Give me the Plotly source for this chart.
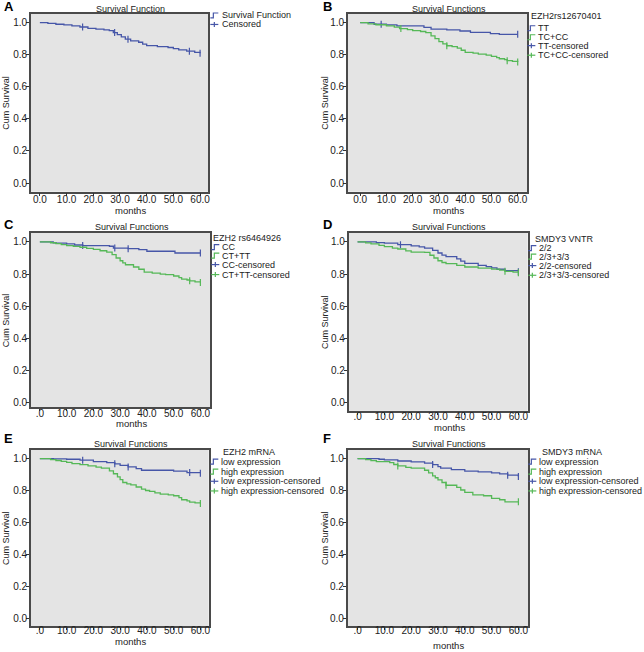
import plotly.graph_objects as go

W, H = 644, 652
BLUE = "#4656a8"
GREEN = "#55b857"
FONT = "Arial, Liberation Sans, sans-serif"

# ---------------- data ----------------
A_time = [0, 3, 6, 9, 12, 15, 18, 21, 24, 26, 27.5, 29, 30.5, 32, 34, 37, 38.5, 40, 44, 48, 50, 52, 55, 58, 60]
A_surv = [1.0, 0.996, 0.99, 0.986, 0.98, 0.973, 0.965, 0.960, 0.955, 0.950, 0.938, 0.925, 0.912, 0.897, 0.886,
          0.878, 0.866, 0.857, 0.850, 0.845, 0.838, 0.830, 0.822, 0.815, 0.81]
A_cens = [16, 28, 33, 56, 60]

B_TT_time = [0, 5.3, 10, 14, 24.3, 27, 33, 38, 42, 49.6, 53, 60]
B_TT_surv = [1.0, 0.99, 0.986, 0.98, 0.971, 0.96, 0.955, 0.948, 0.94, 0.932, 0.927, 0.927]
B_TT_cens = [8, 60]
B_TC_time = [0, 3, 6, 10, 13, 15, 18, 20, 23, 25, 27, 28.5, 30, 31.5, 33, 35, 37, 38.5, 40, 43, 45, 48, 50, 52,
             53, 55, 56, 58, 60]
B_TC_surv = [1.0, 0.993, 0.987, 0.98, 0.972, 0.963, 0.956, 0.95, 0.945, 0.938, 0.918, 0.9, 0.882, 0.868, 0.856,
             0.85, 0.841, 0.828, 0.815, 0.81, 0.804, 0.797, 0.79, 0.782, 0.775, 0.769, 0.763, 0.758, 0.755]
B_TC_cens = [15.5, 33, 56, 60]

C_CC_time = [0, 5, 6, 10, 13, 16, 26, 27.5, 33, 37, 40, 50.5, 60]
C_CC_surv = [1.0, 0.995, 0.992, 0.988, 0.981, 0.977, 0.973, 0.962, 0.958, 0.952, 0.942, 0.931, 0.931]
C_CC_cens = [16, 28, 33, 60]
C_CT_time = [0, 4, 6, 8, 10, 12.5, 15, 17.5, 20, 22.5, 25, 27, 28.5, 30, 31, 32, 35, 37, 39, 42, 45, 47, 50, 52,
             53, 55, 56, 58, 60]
C_CT_surv = [1.0, 0.995, 0.99, 0.983, 0.977, 0.972, 0.967, 0.96, 0.954, 0.945, 0.937, 0.921, 0.9, 0.883, 0.87,
             0.858, 0.844, 0.83, 0.812, 0.806, 0.8, 0.796, 0.788, 0.778, 0.769, 0.763, 0.758, 0.752, 0.748]
C_CT_cens = [56, 60]

D_22_time = [0, 7, 10, 15, 20, 23, 25, 28, 30, 31.5, 33, 37, 38.5, 40, 45, 48, 50, 52, 55, 60]
D_22_surv = [1.0, 0.996, 0.992, 0.983, 0.975, 0.969, 0.962, 0.948, 0.931, 0.918, 0.908, 0.894, 0.88, 0.867,
             0.854, 0.846, 0.838, 0.83, 0.822, 0.814]
D_22_cens = [16, 60]
D_23_time = [0, 3, 5, 8, 10, 13, 15, 18, 20, 25, 27, 28.5, 30, 31.5, 33, 37, 40, 45, 50, 53, 55, 58, 60]
D_23_surv = [1.0, 0.994, 0.988, 0.978, 0.971, 0.962, 0.956, 0.944, 0.937, 0.935, 0.917, 0.9, 0.883, 0.872,
             0.865, 0.854, 0.844, 0.837, 0.831, 0.824, 0.817, 0.812, 0.808]
D_23_cens = [55, 60]

E_low_time = [0, 5, 10, 15, 20, 25, 28, 30, 33, 36, 38, 50, 55, 60]
E_low_surv = [1.0, 0.998, 0.996, 0.99, 0.981, 0.975, 0.967, 0.958, 0.948, 0.9375, 0.927, 0.921, 0.9125, 0.908]
E_low_cens = [16, 28, 33, 56, 60]
E_high_time = [0, 4, 6, 8, 10, 12, 15, 18, 21, 23, 26, 27.5, 29, 30, 31, 32.5, 34, 36, 38, 39.5, 41, 43, 45, 48,
               50, 52, 53, 55, 56, 58, 60]
E_high_surv = [1.0, 0.994, 0.988, 0.983, 0.976, 0.969, 0.962, 0.954, 0.947, 0.94, 0.923, 0.905, 0.885, 0.868,
               0.85, 0.842, 0.835, 0.822, 0.808, 0.8, 0.794, 0.785, 0.777, 0.772, 0.767, 0.755, 0.742, 0.735,
               0.727, 0.722, 0.719]
E_high_cens = [60]

F_low_time = [0, 8, 10, 15, 20, 25, 28, 30, 31, 35, 40, 45, 50, 53, 56, 60]
F_low_surv = [1.0, 0.996, 0.992, 0.985, 0.979, 0.971, 0.9625, 0.95, 0.94, 0.931, 0.921, 0.917, 0.91, 0.904,
              0.896, 0.888]
F_low_cens = [28, 56, 60]
F_high_time = [0, 3, 5, 7, 12, 13.5, 15, 18, 20, 25, 26.5, 28, 29, 30, 31.5, 33, 37, 38.5, 40, 43, 47, 50, 53,
               55, 60]
F_high_surv = [1.0, 0.994, 0.987, 0.981, 0.975, 0.963, 0.954, 0.945, 0.94, 0.927, 0.91, 0.892, 0.88, 0.867,
               0.85, 0.833, 0.819, 0.803, 0.788, 0.773, 0.767, 0.75, 0.742, 0.729, 0.729]
F_high_cens = [15, 33, 60]

x_ticks = [0, 10, 20, 30, 40, 50, 60]
x_labels_AB = ["0.0", "10.0", "20.0", "30.0", "40.0", "50.0", "60.0"]
x_labels_CF = [".0", "10.0", "20.0", "30.0", "40.0", "50.0", "60.0"]
y_ticks = [0, 0.2, 0.4, 0.6, 0.8, 1.0]
y_labels = ["0.0", "0.2", "0.4", "0.6", "0.8", "1.0"]

# ---------------- panel layout (pixels) ----------------
panels = [
    dict(letter="A", title="Survival Function", box=(31, 14, 209, 192), xt=(40, 200.7), yt=(22.7, 183.3),
         letter_pos=(2, 7), title_y=9, months_y=211, ylab_x=6, xlabels=x_labels_AB, xstand=-5,
         series=[(A_time, A_surv, A_cens, BLUE)],
         leg_title=None, leg_title_pos=None, sym_x=211, text_x=221,
         items=[("Survival Function", BLUE, "line", 15.5), ("Censored", BLUE, "cens", 24.5)]),
    dict(letter="B", title="Survival Functions", box=(349, 14, 529, 192), xt=(361.3, 519.3), yt=(22.7, 183.3),
         letter_pos=(322, 7), title_y=9, months_y=211, ylab_x=326, xlabels=x_labels_AB, xstand=-5,
         series=[(B_TT_time, B_TT_surv, B_TT_cens, BLUE), (B_TC_time, B_TC_surv, B_TC_cens, GREEN)],
         leg_title="EZH2rs12670401", leg_title_pos=(531, 16), sym_x=529, text_x=538,
         items=[("TT", BLUE, "line", 28.3), ("TC+CC", GREEN, "line", 37.3),
                ("TT-censored", BLUE, "cens", 45.7), ("TC+CC-censored", GREEN, "cens", 55.3)]),
    dict(letter="C", title="Survival Functions", box=(31, 233.3, 211, 408), xt=(40, 201), yt=(242.3, 403.3),
         letter_pos=(2, 225), title_y=227.3, months_y=424, ylab_x=6, xlabels=x_labels_CF, xstand=-6,
         series=[(C_CC_time, C_CC_surv, C_CC_cens, BLUE), (C_CT_time, C_CT_surv, C_CT_cens, GREEN)],
         leg_title="EZH2 rs6464926", leg_title_pos=(212, 238), sym_x=212, text_x=221,
         items=[("CC", BLUE, "line", 247.5), ("CT+TT", GREEN, "line", 256),
                ("CC-censored", BLUE, "cens", 265), ("CT+TT-censored", GREEN, "cens", 275)]),
    dict(letter="D", title="Survival Functions", box=(349.7, 233.3, 529.3, 411.5), xt=(358.7, 520),
         yt=(242.3, 403.3), letter_pos=(322, 225), title_y=227.3, months_y=428, ylab_x=326, xlabels=x_labels_CF,
         xstand=-7,
         series=[(D_22_time, D_22_surv, D_22_cens, BLUE), (D_23_time, D_23_surv, D_23_cens, GREEN)],
         leg_title="SMDY3 VNTR", leg_title_pos=(535, 239.5), sym_x=530, text_x=539,
         items=[("2/2", BLUE, "line", 248.5), ("2/3+3/3", GREEN, "line", 257),
                ("2/2-censored", BLUE, "cens", 266), ("2/3+3/3-censored", GREEN, "cens", 275.7)]),
    dict(letter="E", title="Survival Functions", box=(31, 450.7, 209.3, 627), xt=(40, 201), yt=(459.3, 619),
         letter_pos=(2, 439), title_y=445, months_y=642, ylab_x=6, xlabels=x_labels_CF, xstand=-8,
         series=[(E_low_time, E_low_surv, E_low_cens, BLUE), (E_high_time, E_high_surv, E_high_cens, GREEN)],
         leg_title="EZH2 mRNA", leg_title_pos=(222, 452.7), sym_x=211, text_x=220,
         items=[("low expression", BLUE, "line", 462.3), ("high expression", GREEN, "line", 472.3),
                ("low expression-censored", BLUE, "cens", 482), ("high expression-censored", GREEN, "cens", 491.7)]),
    dict(letter="F", title="Survival Functions", box=(348.7, 450.7, 529.7, 627), xt=(358.7, 520), yt=(459.3, 619),
         letter_pos=(322, 439), title_y=445, months_y=646, ylab_x=326, xlabels=x_labels_CF, xstand=-8,
         series=[(F_low_time, F_low_surv, F_low_cens, BLUE), (F_high_time, F_high_surv, F_high_cens, GREEN)],
         leg_title="SMDY3 mRNA", leg_title_pos=(542, 452.7), sym_x=530, text_x=539,
         items=[("low expression", BLUE, "line", 462.3), ("high expression", GREEN, "line", 472.3),
                ("low expression-censored", BLUE, "cens", 482), ("high expression-censored", GREEN, "cens", 491.7)]),
]


def px(x):
    return x / W


def py(y):
    return 1 - y / H


def step_at(times, surv, t):
    v = surv[0]
    for tt, s in zip(times, surv):
        if tt <= t:
            v = s
    return v


fig = go.Figure()
annotations = []
shapes = []
layout_axes = {}

for i, p in enumerate(panels):
    n = i + 1
    xa = "x" if n == 1 else f"x{n}"
    ya = "y" if n == 1 else f"y{n}"
    xkey = "xaxis" if n == 1 else f"xaxis{n}"
    ykey = "yaxis" if n == 1 else f"yaxis{n}"
    left, top, right, bottom = p["box"]
    x0p, x60p = p["xt"]
    y1p, y0p = p["yt"]
    sx = 60 / (x60p - x0p)
    sy = 1 / (y0p - y1p)
    xr = [-(x0p - left) * sx, 60 + (right - x60p) * sx]
    yr = [-(bottom - y0p) * sy, 1 + (y1p - top) * sy]

    for times, surv, cens, col in p["series"]:
        fig.add_trace(go.Scatter(x=times, y=surv, mode="lines", line=dict(color=col, width=1.3, shape="hv"),
                                 xaxis=xa, yaxis=ya, showlegend=False, hoverinfo="skip"))
        fig.add_trace(go.Scatter(x=cens, y=[step_at(times, surv, t) for t in cens], mode="markers",
                                 marker=dict(symbol="line-ns-open", size=5, color=col,
                                             line=dict(color=col, width=1.2)),
                                 xaxis=xa, yaxis=ya, showlegend=False, hoverinfo="skip"))

    axis_common = dict(showline=True, mirror=True, linecolor="#4a4a4a", linewidth=1.5, ticks="outside",
                       tickcolor="#333", tickwidth=1, showgrid=False, zeroline=False,
                       tickfont=dict(family=FONT, size=10, color="#222"))
    layout_axes[xkey] = dict(domain=[px(left), px(right)], range=xr, anchor=ya, tickvals=x_ticks,
                             ticktext=p["xlabels"], ticklen=3 if p["xstand"] > -6 else 2,
                             ticklabelstandoff=p["xstand"], **axis_common)
    layout_axes[ykey] = dict(domain=[py(bottom), py(top)], range=yr, anchor=xa, tickvals=y_ticks,
                             ticktext=y_labels, ticklen=3, ticklabelstandoff=-3, **axis_common)

    cx = (left + right) / 2 + 11
    annotations.append(dict(text=f"<b>{p['letter']}</b>", x=px(p["letter_pos"][0]), y=py(p["letter_pos"][1]),
                            xref="paper", yref="paper", xanchor="left", yanchor="middle", showarrow=False,
                            font=dict(family=FONT, size=13, color="#000")))
    annotations.append(dict(text=p["title"], x=px(cx), y=py(p["title_y"]), xref="paper", yref="paper",
                            xanchor="center", yanchor="middle", showarrow=False,
                            font=dict(family=FONT, size=9, color="#222")))
    annotations.append(dict(text="months", x=px(cx), y=py(p["months_y"]), xref="paper", yref="paper",
                            xanchor="center", yanchor="middle", showarrow=False,
                            font=dict(family=FONT, size=9.5, color="#222")))
    annotations.append(dict(text="Cum Survival", x=px(p["ylab_x"]), y=py((top + bottom) / 2), xref="paper",
                            yref="paper", xanchor="center", yanchor="middle", textangle=-90, showarrow=False,
                            font=dict(family=FONT, size=9, color="#222")))
    if p["leg_title"]:
        annotations.append(dict(text=p["leg_title"], x=px(p["leg_title_pos"][0]), y=py(p["leg_title_pos"][1]),
                                xref="paper", yref="paper", xanchor="left", yanchor="middle", showarrow=False,
                                font=dict(family=FONT, size=9, color="#222")))
    sxp = p["sym_x"]
    for label, col, kind, yy in p["items"]:
        annotations.append(dict(text=label, x=px(p["text_x"]), y=py(yy), xref="paper", yref="paper",
                                xanchor="left", yanchor="middle", showarrow=False,
                                font=dict(family=FONT, size=9, color="#222")))
        if kind == "line":
            path = (f"M {px(sxp)},{py(yy + 2.5)} L {px(sxp + 3)},{py(yy + 2.5)} "
                    f"L {px(sxp + 3)},{py(yy - 2.5)} L {px(sxp + 8)},{py(yy - 2.5)}")
            shapes.append(dict(type="path", path=path, xref="paper", yref="paper",
                               line=dict(color=col, width=1.2)))
        else:
            shapes.append(dict(type="line", x0=px(sxp), x1=px(sxp + 8), y0=py(yy), y1=py(yy), xref="paper",
                               yref="paper", line=dict(color=col, width=1.2)))
            shapes.append(dict(type="line", x0=px(sxp + 4), x1=px(sxp + 4), y0=py(yy - 2.5), y1=py(yy + 2.5),
                               xref="paper", yref="paper", line=dict(color=col, width=1.2)))

fig.update_layout(width=W, height=H, autosize=False, margin=dict(l=0, r=0, t=0, b=0),
                  paper_bgcolor="white", plot_bgcolor="#e4e4e4", showlegend=False,
                  annotations=annotations, shapes=shapes, font=dict(family=FONT), **layout_axes)

fig.write_html("out.html", config={"displayModeBar": False},
               post_script="document.body.style.margin='0';document.body.style.padding='0';")
